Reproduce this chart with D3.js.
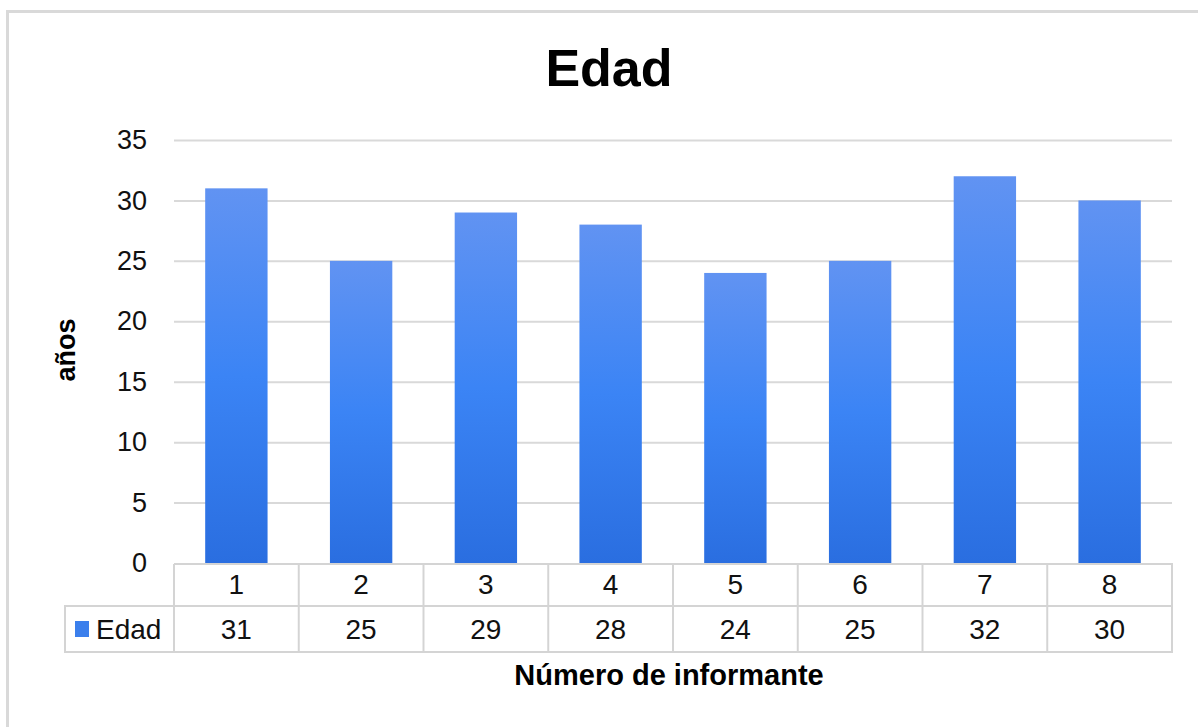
<!DOCTYPE html>
<html>
<head>
<meta charset="utf-8">
<script src="https://cdn.jsdelivr.net/npm/d3@7"></script>
<style>
  body { margin: 0; background: #fff; }
  svg { font-family: "Liberation Sans", Arial, sans-serif; }
</style>
</head>
<body>
<div id="chart"></div>
<script>
// datos
const informantes = ['1', '2', '3', '4', '5', '6', '7', '8'];
const edades = [31, 25, 29, 28, 24, 25, 32, 30];
const yTicks = [0, 5, 10, 15, 20, 25, 30, 35];
const serieNombre = 'Edad';

const width = 1198, height = 727;
const plotLeft = 174, plotRight = 1172, plotTop = 140, plotBottom = 563;
const rowH1 = 42, rowH2 = 46;
const legendX = 65;

const svg = d3.select('#chart').append('svg')
  .attr('width', width)
  .attr('height', height);

// marco
svg.append('rect')
  .attr('x', 7.5).attr('y', 11.5)
  .attr('width', 1210).attr('height', 730)
  .attr('fill', 'none')
  .attr('stroke', '#d9d9d9')
  .attr('stroke-width', 3);

// degradado de las barras
const grad = svg.append('defs').append('linearGradient')
  .attr('id', 'barGrad')
  .attr('x1', 0).attr('y1', 0).attr('x2', 0).attr('y2', 1);
grad.append('stop').attr('offset', '0%').attr('stop-color', '#6193f2');
grad.append('stop').attr('offset', '50%').attr('stop-color', '#3b84f5');
grad.append('stop').attr('offset', '100%').attr('stop-color', '#2a6ee0');

const x = d3.scaleBand()
  .domain(informantes)
  .range([plotLeft, plotRight])
  .paddingInner(0.5)
  .paddingOuter(0.25);

const y = d3.scaleLinear()
  .domain([0, 35])
  .range([plotBottom, plotTop]);

// eje y + líneas de cuadrícula
const yAxis = svg.append('g')
  .attr('transform', `translate(${plotLeft},0)`)
  .call(d3.axisLeft(y).tickValues(yTicks).tickSize(-(plotRight - plotLeft)).tickPadding(27));
yAxis.select('.domain').remove();
yAxis.selectAll('.tick line')
  .attr('stroke', '#d9d9d9')
  .attr('stroke-width', 2)
  .attr('display', d => d === 0 ? 'none' : null);
yAxis.selectAll('.tick text')
  .attr('font-size', 27)
  .attr('fill', '#111')
  .attr('font-family', '"Liberation Sans", Arial, sans-serif');

// barras
svg.selectAll('.bar')
  .data(edades)
  .enter()
  .append('rect')
  .attr('class', 'bar')
  .attr('x', (d, i) => x(informantes[i]))
  .attr('y', d => y(d))
  .attr('width', x.bandwidth())
  .attr('height', d => y(0) - y(d))
  .attr('fill', 'url(#barGrad)');

// tabla de datos
const tbl = svg.append('g')
  .attr('fill', 'none')
  .attr('stroke', '#d4d4d4')
  .attr('stroke-width', 2);
const r1 = plotBottom + 1, r2 = r1 + rowH1, r3 = r2 + rowH2;
tbl.append('path')
  .attr('d', `M${plotLeft},${r1}H${plotRight}V${r3}H${legendX}V${r2}H${plotRight}M${plotLeft},${r1}V${r3}`);
tbl.selectAll('.col')
  .data(informantes.slice(1))
  .enter()
  .append('line')
  .attr('x1', d => x(d) - x.step() * 0.25)
  .attr('x2', d => x(d) - x.step() * 0.25)
  .attr('y1', r1).attr('y2', r3);

svg.selectAll('.cat')
  .data(informantes)
  .enter()
  .append('text')
  .attr('x', d => x(d) + x.bandwidth() / 2)
  .attr('y', r1 + 30)
  .attr('text-anchor', 'middle')
  .attr('font-size', 28)
  .attr('fill', '#111')
  .text(d => d);

svg.selectAll('.val')
  .data(edades)
  .enter()
  .append('text')
  .attr('x', (d, i) => x(informantes[i]) + x.bandwidth() / 2)
  .attr('y', r2 + 33)
  .attr('text-anchor', 'middle')
  .attr('font-size', 28)
  .attr('fill', '#111')
  .text(d => d);

// leyenda
svg.append('rect')
  .attr('x', 75).attr('y', r2 + 15)
  .attr('width', 14).attr('height', 16)
  .attr('fill', '#3b7fec');
svg.append('text')
  .attr('x', 96).attr('y', r2 + 33)
  .attr('font-size', 28)
  .attr('fill', '#111')
  .text(serieNombre);

// títulos
svg.append('text')
  .attr('x', 609).attr('y', 86)
  .attr('text-anchor', 'middle')
  .attr('font-size', 52)
  .attr('font-weight', 'bold')
  .attr('fill', '#000')
  .text('Edad');

svg.append('text')
  .attr('transform', 'translate(75,350) rotate(-90)')
  .attr('text-anchor', 'middle')
  .attr('font-size', 27)
  .attr('font-weight', 'bold')
  .attr('fill', '#000')
  .text('años');

svg.append('text')
  .attr('x', 669).attr('y', 685)
  .attr('text-anchor', 'middle')
  .attr('font-size', 29)
  .attr('font-weight', 'bold')
  .attr('fill', '#000')
  .text('Número de informante');
</script>
</body>
</html>
